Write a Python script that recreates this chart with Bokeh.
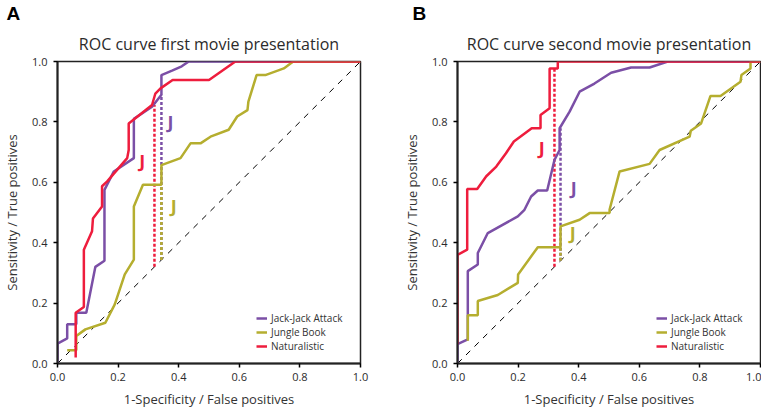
from bokeh.plotting import figure
from bokeh.layouts import row
from bokeh.models import Legend, LegendItem, Range1d, FixedTicker, Label, NumeralTickFormatter, Title
from bokeh.embed import file_html
from bokeh.resources import INLINE

# ---------------- data ----------------
PURPLE = "#7b4fa6"
OLIVE = "#b5ae2f"
RED = "#ee1d3d"

series_names = ["Jack-Jack Attack", "Jungle Book", "Naturalistic"]

# Panel A: first presentation
a_jj_x = [0, 0, 0.032, 0.032, 0.062, 0.062, 0.095, 0.125, 0.155, 0.155, 0.186, 0.252, 0.252, 0.312, 0.343, 0.343, 0.378, 0.41, 0.433, 1.0]
a_jj_y = [0, 0.066, 0.083, 0.13, 0.13, 0.168, 0.168, 0.32, 0.34, 0.575, 0.636, 0.68, 0.81, 0.85, 0.89, 0.955, 0.97, 0.984, 1.0, 1.0]
a_jb_x = [0.032, 0.062, 0.062, 0.092, 0.158, 0.189, 0.222, 0.252, 0.252, 0.282, 0.343, 0.343, 0.406, 0.439, 0.472, 0.505, 0.565, 0.593, 0.627, 0.63, 0.657, 0.686, 0.747, 0.778, 1.0]
a_jb_y = [0.044, 0.044, 0.091, 0.113, 0.135, 0.196, 0.295, 0.344, 0.52, 0.592, 0.592, 0.657, 0.68, 0.729, 0.729, 0.751, 0.774, 0.818, 0.839, 0.867, 0.955, 0.955, 0.977, 1.0, 1.0]
a_na_x = [0.06, 0.06, 0.087, 0.087, 0.114, 0.117, 0.147, 0.147, 0.164, 0.23, 0.235, 0.235, 0.312, 0.323, 0.34, 0.38, 0.5, 0.587, 1.0]
a_na_y = [0.02, 0.168, 0.187, 0.377, 0.438, 0.48, 0.52, 0.587, 0.603, 0.68, 0.707, 0.795, 0.856, 0.894, 0.911, 0.939, 0.939, 1.0, 1.0]

# Youden points (x, top y) for A: purple, olive, red
a_youden_x = [0.343, 0.343, 0.32]
a_youden_top = [0.89, 0.592, 0.856]
a_j_x = [0.373, 0.384, 0.28]
a_j_y = [0.80, 0.52, 0.669]

# Panel B: second presentation
b_jj_x = [0, 0, 0.034, 0.034, 0.067, 0.067, 0.1, 0.199, 0.221, 0.243, 0.265, 0.296, 0.32, 0.337, 0.337, 0.37, 0.403, 0.452, 0.507, 0.573, 0.634, 0.694, 1.0]
b_jj_y = [0, 0.064, 0.08, 0.306, 0.328, 0.366, 0.432, 0.487, 0.509, 0.553, 0.573, 0.573, 0.674, 0.707, 0.779, 0.834, 0.9, 0.927, 0.963, 0.98, 0.98, 1.0, 1.0]
b_jb_x = [0.034, 0.034, 0.067, 0.067, 0.133, 0.199, 0.2, 0.265, 0.34, 0.34, 0.403, 0.436, 0.502, 0.502, 0.535, 0.634, 0.667, 0.766, 0.77, 0.804, 0.835, 0.868, 0.934, 0.937, 0.967, 0.967, 1.0]
b_jb_y = [0.075, 0.16, 0.16, 0.207, 0.227, 0.267, 0.295, 0.385, 0.385, 0.454, 0.476, 0.498, 0.498, 0.51, 0.636, 0.661, 0.707, 0.751, 0.771, 0.795, 0.886, 0.886, 0.933, 0.955, 0.977, 1.0, 1.0]
b_na_x = [0, 0, 0.032, 0.032, 0.065, 0.095, 0.128, 0.16, 0.186, 0.245, 0.274, 0.274, 0.304, 0.304, 0.331, 0.331, 1.0]
b_na_y = [0.064, 0.36, 0.377, 0.578, 0.578, 0.62, 0.652, 0.696, 0.735, 0.779, 0.779, 0.823, 0.845, 0.977, 0.977, 1.0, 1.0]

b_youden_x = [0.34, 0.34, 0.32]
b_youden_top = [0.779, 0.385, 0.977]
b_j_x = [0.384, 0.38, 0.278]
b_j_y = [0.58, 0.432, 0.713]

ticks = [0.0, 0.2, 0.4, 0.6, 0.8, 1.0]

FONT = "Open Sans"
TXT = "#2b2b2b"


def make_panel(letter, title, curves, youden_x, youden_top, j_x, j_y,
               border_left, border_right, letter_offset):
    p = figure(frame_width=303, frame_height=302, output_backend="svg",
               toolbar_location=None, min_border_left=border_left,
               min_border_right=border_right, min_border_top=54,
               min_border_bottom=44,
               x_range=Range1d(0, 1.0), y_range=Range1d(0, 1.0))
    # outer title: panel letter
    p.title.text = letter
    p.title.align = "left"
    p.title.offset = letter_offset
    p.title.text_font = "Liberation Sans"
    p.title.text_font_size = "19px"
    p.title.text_font_style = "bold"
    p.title.text_color = "black"
    p.title.standoff = 0
    # inner title: chart title
    p.add_layout(Title(text=title, align="center", text_font=FONT,
                       text_font_size="16px", text_font_style="normal",
                       text_color=TXT, standoff=14), "above")
    p.xgrid.visible = False
    p.ygrid.visible = False
    p.outline_line_color = "#222222"
    p.outline_line_width = 1.5
    for ax in (p.xaxis[0], p.yaxis[0]):
        ax.ticker = FixedTicker(ticks=ticks)
        ax.formatter = NumeralTickFormatter(format="0.0")
        ax.minor_tick_line_color = None
        ax.major_tick_in = 0
        ax.major_tick_out = 4
        ax.major_tick_line_width = 1.5
        ax.axis_line_width = 2
        ax.axis_line_color = "#222222"
        ax.major_label_text_font = FONT
        ax.major_label_text_font_size = "11px"
        ax.major_label_text_color = TXT
        ax.axis_label_text_font = FONT
        ax.axis_label_text_font_size = "13px"
        ax.axis_label_text_font_style = "normal"
        ax.axis_label_text_color = "#333333"
    p.xaxis.major_label_standoff = 5
    p.yaxis.major_label_standoff = 6
    p.xaxis.axis_label = "1-Specificity / False positives"
    p.yaxis.axis_label = "Sensitivity / True positives"
    p.xaxis.axis_label_standoff = 6
    p.yaxis.axis_label_standoff = 8

    # chance diagonal
    p.line([0, 1], [0, 1], line_color="black", line_width=1, line_dash="6 6")

    colors = [PURPLE, OLIVE, RED]
    for yx, yt, c in zip(youden_x, youden_top, colors):
        p.line([yx, yx], [yx, yt], line_color=c, line_width=2.5, line_dash="3 2")

    renderers = []
    for (xs, ys), c in zip(curves, colors):
        r = p.line(xs, ys, line_color=c, line_width=2.5)
        renderers.append(r)

    for jx, jy, c in zip(j_x, j_y, colors):
        p.add_layout(Label(x=jx, y=jy, text="J", text_color=c, text_font=FONT,
                           text_font_size="18px", text_font_style="bold",
                           text_align="center", text_baseline="middle"))

    legend = Legend(items=[LegendItem(label=n, renderers=[r]) for n, r in zip(series_names, renderers)],
                    location=(199, 10), label_text_font=FONT, label_text_font_size="10px",
                    label_text_color="#333333", glyph_width=11, glyph_height=10,
                    label_height=10, spacing=0, padding=2, border_line_color=None,
                    background_fill_alpha=0, label_standoff=4, margin=0)
    p.add_layout(legend, "center")
    return p


pa = make_panel("A", "ROC curve first movie presentation",
                [(a_jj_x, a_jj_y), (a_jb_x, a_jb_y), (a_na_x, a_na_y)],
                a_youden_x, a_youden_top, a_j_x, a_j_y, 51, 40, -51)
pb = make_panel("B", "ROC curve second movie presentation",
                [(b_jj_x, b_jj_y), (b_jb_x, b_jb_y), (b_na_x, b_na_y)],
                b_youden_x, b_youden_top, b_j_x, b_j_y, 56, 1, -45)

layout = row(pa, pb, spacing=0)
open("out.html", "w").write(file_html(layout, INLINE))
